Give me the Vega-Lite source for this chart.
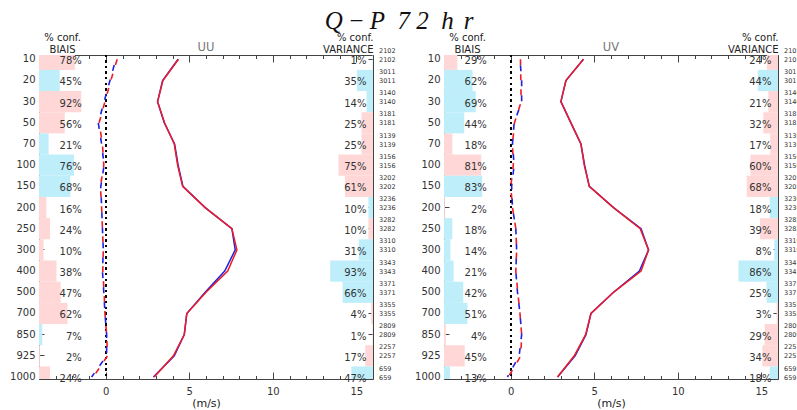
{
  "$schema": "https://vega.github.io/schema/vega-lite/v6.json",
  "padding": {"left": 9, "top": 8, "right": 0, "bottom": 0},
  "background": "white",
  "title": {
    "text": "Q\u2009−\u2009P\u20027 2\u2002h\u2009\u2009r",
    "font": "Liberation Serif",
    "fontStyle": "italic",
    "fontWeight": "normal",
    "fontSize": 25,
    "color": "#111",
    "anchor": "middle",
    "baseline": "alphabetic",
    "dx": -6,
    "offset": -22
  },
  "config": {
    "view": {"stroke": "#444", "strokeWidth": 1},
    "axis": {
      "labelFont": "DejaVu Sans",
      "labelFontSize": 10,
      "labelColor": "#333",
      "titleFont": "DejaVu Sans",
      "titleFontWeight": "normal",
      "titleFontSize": 10,
      "titleColor": "#222",
      "grid": false,
      "domain": false,
      "tickColor": "#444",
      "tickWidth": 1
    },
    "text": {"font": "DejaVu Sans", "fontSize": 10, "color": "#333"}
  },
  "datasets": {
    "uu": [
      {"p": "10", "bc": 0.78, "bs": "pos", "vc": 0.01, "vs": "neg", "n": 2102, "mb": 0.6, "mr": 0.68, "sb": 4.33, "sr": 4.35},
      {"p": "20", "bc": 0.45, "bs": "neg", "vc": 0.35, "vs": "neg", "n": 3011, "mb": 0.25, "mr": 0.3, "sb": 3.4, "sr": 3.42},
      {"p": "30", "bc": 0.92, "bs": "pos", "vc": 0.14, "vs": "neg", "n": 3140, "mb": -0.1, "mr": -0.05, "sb": 3.1, "sr": 3.1},
      {"p": "50", "bc": 0.56, "bs": "pos", "vc": 0.25, "vs": "pos", "n": 3181, "mb": -0.45, "mr": -0.4, "sb": 3.5, "sr": 3.52},
      {"p": "70", "bc": 0.21, "bs": "neg", "vc": 0.25, "vs": "pos", "n": 3139, "mb": -0.25, "mr": -0.2, "sb": 4.12, "sr": 4.1},
      {"p": "100", "bc": 0.76, "bs": "neg", "vc": 0.75, "vs": "pos", "n": 3156, "mb": -0.1, "mr": -0.12, "sb": 4.33, "sr": 4.3},
      {"p": "150", "bc": 0.68, "bs": "neg", "vc": 0.61, "vs": "pos", "n": 3202, "mb": -0.3, "mr": -0.32, "sb": 4.62, "sr": 4.6},
      {"p": "200", "bc": 0.16, "bs": "pos", "vc": 0.10, "vs": "neg", "n": 3236, "mb": -0.25, "mr": -0.25, "sb": 5.95, "sr": 5.95},
      {"p": "250", "bc": 0.24, "bs": "pos", "vc": 0.10, "vs": "pos", "n": 3282, "mb": -0.2, "mr": -0.2, "sb": 7.55, "sr": 7.55},
      {"p": "300", "bc": 0.10, "bs": "pos", "vc": 0.31, "vs": "neg", "n": 3310, "mb": -0.15, "mr": -0.15, "sb": 7.75, "sr": 7.85},
      {"p": "400", "bc": 0.38, "bs": "pos", "vc": 0.93, "vs": "neg", "n": 3343, "mb": -0.2, "mr": -0.18, "sb": 7.12, "sr": 7.3},
      {"p": "500", "bc": 0.47, "bs": "pos", "vc": 0.66, "vs": "neg", "n": 3371, "mb": -0.12, "mr": -0.1, "sb": 5.95, "sr": 6.0},
      {"p": "700", "bc": 0.62, "bs": "pos", "vc": 0.04, "vs": "pos", "n": 3355, "mb": -0.05, "mr": -0.05, "sb": 4.85, "sr": 4.85},
      {"p": "850", "bc": 0.07, "bs": "neg", "vc": 0.01, "vs": "pos", "n": 2809, "mb": 0.05, "mr": 0.05, "sb": 4.7, "sr": 4.7},
      {"p": "925", "bc": 0.02, "bs": "pos", "vc": 0.17, "vs": "pos", "n": 2257, "mb": 0.05, "mr": 0.1, "sb": 4.1, "sr": 4.05},
      {"p": "1000", "bc": 0.24, "bs": "pos", "vc": 0.47, "vs": "neg", "n": 659, "mb": -0.85, "mr": -0.75, "sb": 2.85, "sr": 2.9}
    ],
    "uv": [
      {"p": "10", "bc": 0.29, "bs": "pos", "vc": 0.24, "vs": "pos", "n": 2102, "mb": 0.55, "mr": 0.58, "sb": 4.35, "sr": 4.35},
      {"p": "20", "bc": 0.62, "bs": "neg", "vc": 0.44, "vs": "neg", "n": 3011, "mb": 0.65, "mr": 0.6, "sb": 3.3, "sr": 3.3},
      {"p": "30", "bc": 0.69, "bs": "neg", "vc": 0.21, "vs": "pos", "n": 3140, "mb": 0.65, "mr": 0.62, "sb": 3.0, "sr": 3.0},
      {"p": "50", "bc": 0.44, "bs": "neg", "vc": 0.32, "vs": "pos", "n": 3181, "mb": 0.2, "mr": 0.22, "sb": 3.6, "sr": 3.6},
      {"p": "70", "bc": 0.18, "bs": "pos", "vc": 0.17, "vs": "pos", "n": 3139, "mb": 0.1, "mr": 0.1, "sb": 4.2, "sr": 4.2},
      {"p": "100", "bc": 0.81, "bs": "pos", "vc": 0.60, "vs": "pos", "n": 3156, "mb": 0.2, "mr": 0.15, "sb": 4.42, "sr": 4.4},
      {"p": "150", "bc": 0.83, "bs": "neg", "vc": 0.68, "vs": "pos", "n": 3202, "mb": 0.05, "mr": 0.0, "sb": 4.7, "sr": 4.7},
      {"p": "200", "bc": 0.02, "bs": "pos", "vc": 0.18, "vs": "neg", "n": 3236, "mb": 0.1, "mr": 0.1, "sb": 6.15, "sr": 6.15},
      {"p": "250", "bc": 0.18, "bs": "neg", "vc": 0.39, "vs": "pos", "n": 3282, "mb": 0.3, "mr": 0.3, "sb": 7.8, "sr": 7.75},
      {"p": "300", "bc": 0.14, "bs": "neg", "vc": 0.08, "vs": "neg", "n": 3310, "mb": 0.35, "mr": 0.35, "sb": 8.25, "sr": 8.25},
      {"p": "400", "bc": 0.21, "bs": "neg", "vc": 0.86, "vs": "neg", "n": 3343, "mb": 0.3, "mr": 0.3, "sb": 7.7, "sr": 7.8},
      {"p": "500", "bc": 0.42, "bs": "neg", "vc": 0.25, "vs": "neg", "n": 3371, "mb": 0.4, "mr": 0.42, "sb": 6.15, "sr": 6.15},
      {"p": "700", "bc": 0.51, "bs": "neg", "vc": 0.03, "vs": "pos", "n": 3355, "mb": 0.55, "mr": 0.55, "sb": 4.8, "sr": 4.8},
      {"p": "850", "bc": 0.04, "bs": "pos", "vc": 0.29, "vs": "pos", "n": 2809, "mb": 0.65, "mr": 0.65, "sb": 4.5, "sr": 4.48},
      {"p": "925", "bc": 0.45, "bs": "pos", "vc": 0.34, "vs": "pos", "n": 2257, "mb": 0.5, "mr": 0.6, "sb": 3.85, "sr": 3.8},
      {"p": "1000", "bc": 0.13, "bs": "neg", "vc": 0.18, "vs": "neg", "n": 659, "mb": -0.2, "mr": -0.15, "sb": 2.8, "sr": 2.8}
    ]
  },
  "bounds": "flush",
  "spacing": 71,
  "hconcat": [
    {
      "width": 334,
      "height": 324,
      "data": {"name": "uu"},
      "title": {"text": "UU", "font": "DejaVu Sans", "fontSize": 11.5, "fontWeight": "normal", "color": "#777", "anchor": "middle", "baseline": "alphabetic", "offset": -30},
      "layer": [
        {
          "mark": {"type": "bar", "clip": true},
          "encoding": {
            "y": {"field": "p", "type": "ordinal",
              "scale": {"domain": ["10","20","30","50","70","100","150","200","250","300","400","500","700","850","925","1000"], "range": [-6.3, 332.6], "paddingInner": 0, "paddingOuter": 0},
              "axis": {"orient": "left", "tickSize": -5, "labelPadding": 9, "title": ["% conf.", "BIAIS"], "titleAngle": 0, "titleX": 23, "titleY": -23, "titleAlign": "center", "titleBaseline": "top", "titleLineHeight": 12.5}},
            "x": {"field": "bc", "type": "quantitative", "scale": {"domain": [0, 7.26], "nice": false, "zero": true}, "axis": null},
            "color": {"field": "bs", "type": "nominal", "scale": {"domain": ["pos", "neg"], "range": ["#ffd7d7", "#bfeefb"]}, "legend": null}
          }
        },
        {
          "mark": {"type": "bar", "clip": true},
          "encoding": {
            "y": {"field": "p", "type": "ordinal",
              "axis": {"orient": "right", "tickSize": -5, "labels": false, "title": ["% conf.", "VARIANCE"], "titleAngle": 0, "titleX": 0, "titleY": -23, "titleAlign": "right", "titleBaseline": "top", "titleLineHeight": 12.5}},
            "x": {"field": "vc", "type": "quantitative", "scale": {"domain": [0, 7.26], "nice": false, "zero": true, "reverse": true}, "axis": null},
            "color": {"field": "vs", "type": "nominal", "scale": {"domain": ["pos", "neg"], "range": ["#ffd7d7", "#bfeefb"]}, "legend": null}
          }
        },
        {
          "mark": {"type": "rule", "color": "#000", "strokeWidth": 1.6, "strokeDash": [1.6, 4]},
          "encoding": {
            "x": {"datum": 0, "type": "quantitative", "scale": {"domain": [-4, 16], "nice": false, "zero": false},
              "axis": {"orient": "bottom", "values": [0, 5, 10, 15], "tickSize": -7, "labelPadding": 14, "title": "(m/s)", "titleFontSize": 11, "titlePadding": 1}}
          }
        },
        {
          "mark": {"type": "line", "color": "#2020e0", "strokeWidth": 1.5},
          "encoding": {
            "y": {"field": "p", "type": "ordinal", "axis": null},
            "x": {"field": "sb", "type": "quantitative", "scale": {"domain": [-4, 16], "nice": false, "zero": false},
              "axis": {"orient": "bottom", "values": [-4,-3,-2,-1,0,1,2,3,4,5,6,7,8,9,10,11,12,13,14,15,16], "tickSize": -3.5, "labels": false, "title": null}},
            "order": {"value": null}
          }
        },
        {
          "mark": {"type": "line", "color": "#ee1c25", "strokeWidth": 1.5},
          "encoding": {
            "y": {"field": "p", "type": "ordinal", "axis": null},
            "x": {"field": "sr", "type": "quantitative", "scale": {"domain": [-4, 16], "nice": false, "zero": false},
              "axis": {"orient": "top", "values": [0, 5, 10, 15], "tickSize": -7, "labels": false, "title": null}},
            "order": {"value": null}
          }
        },
        {
          "mark": {"type": "line", "color": "#2020e0", "strokeWidth": 1.6, "strokeDash": [6, 9], "strokeDashOffset": 9},
          "encoding": {
            "y": {"field": "p", "type": "ordinal", "axis": null},
            "x": {"field": "mb", "type": "quantitative", "scale": {"domain": [-4, 16], "nice": false, "zero": false},
              "axis": {"orient": "top", "values": [-4,-3,-2,-1,0,1,2,3,4,5,6,7,8,9,10,11,12,13,14,15,16], "tickSize": -3.5, "labels": false, "title": null}},
            "order": {"value": null}
          }
        },
        {
          "mark": {"type": "line", "color": "#ee1c25", "strokeWidth": 1.6, "strokeDash": [6, 9]},
          "encoding": {
            "y": {"field": "p", "type": "ordinal", "axis": null},
            "x": {"field": "mr", "type": "quantitative", "scale": {"domain": [-4, 16], "nice": false, "zero": false}, "axis": null},
            "order": {"value": null}
          }
        },
        {
          "mark": {"type": "text", "align": "right", "baseline": "middle", "dy": 2},
          "encoding": {
            "y": {"field": "p", "type": "ordinal", "axis": null},
            "x": {"datum": -1.44, "type": "quantitative", "scale": {"domain": [-4, 16], "nice": false, "zero": false}, "axis": null},
            "text": {"field": "bc", "type": "quantitative", "format": ".0%"}
          }
        },
        {
          "mark": {"type": "text", "align": "right", "baseline": "middle", "dy": 2},
          "encoding": {
            "y": {"field": "p", "type": "ordinal", "axis": null},
            "x": {"datum": 15.61, "type": "quantitative", "scale": {"domain": [-4, 16], "nice": false, "zero": false}, "axis": null},
            "text": {"field": "vc", "type": "quantitative", "format": ".0%"}
          }
        },
        {
          "mark": {"type": "text", "align": "left", "baseline": "middle", "dx": 6, "dy": -8.5, "fontSize": 6.5},
          "encoding": {
            "y": {"field": "p", "type": "ordinal", "axis": null},
            "x": {"datum": 16, "type": "quantitative", "scale": {"domain": [-4, 16], "nice": false, "zero": false}, "axis": null},
            "text": {"field": "n", "type": "nominal"}
          }
        },
        {
          "mark": {"type": "text", "align": "left", "baseline": "middle", "dx": 6, "dy": 0.5, "fontSize": 6.5},
          "encoding": {
            "y": {"field": "p", "type": "ordinal", "axis": null},
            "x": {"datum": 16, "type": "quantitative", "scale": {"domain": [-4, 16], "nice": false, "zero": false}, "axis": null},
            "text": {"field": "n", "type": "nominal"}
          }
        }
      ],
      "resolve": {"scale": {"x": "independent", "color": "independent"}, "axis": {"x": "independent", "y": "independent"}}
    },
    {
      "width": 334,
      "height": 324,
      "data": {"name": "uv"},
      "title": {"text": "UV", "font": "DejaVu Sans", "fontSize": 11.5, "fontWeight": "normal", "color": "#777", "anchor": "middle", "baseline": "alphabetic", "offset": -30},
      "layer": [
        {
          "mark": {"type": "bar", "clip": true},
          "encoding": {
            "y": {"field": "p", "type": "ordinal",
              "scale": {"domain": ["10","20","30","50","70","100","150","200","250","300","400","500","700","850","925","1000"], "range": [-6.3, 332.6], "paddingInner": 0, "paddingOuter": 0},
              "axis": {"orient": "left", "tickSize": -5, "labelPadding": 9, "title": ["% conf.", "BIAIS"], "titleAngle": 0, "titleX": 23, "titleY": -23, "titleAlign": "center", "titleBaseline": "top", "titleLineHeight": 12.5}},
            "x": {"field": "bc", "type": "quantitative", "scale": {"domain": [0, 7.26], "nice": false, "zero": true}, "axis": null},
            "color": {"field": "bs", "type": "nominal", "scale": {"domain": ["pos", "neg"], "range": ["#ffd7d7", "#bfeefb"]}, "legend": null}
          }
        },
        {
          "mark": {"type": "bar", "clip": true},
          "encoding": {
            "y": {"field": "p", "type": "ordinal",
              "axis": {"orient": "right", "tickSize": -5, "labels": false, "title": ["% conf.", "VARIANCE"], "titleAngle": 0, "titleX": 0, "titleY": -23, "titleAlign": "right", "titleBaseline": "top", "titleLineHeight": 12.5}},
            "x": {"field": "vc", "type": "quantitative", "scale": {"domain": [0, 7.26], "nice": false, "zero": true, "reverse": true}, "axis": null},
            "color": {"field": "vs", "type": "nominal", "scale": {"domain": ["pos", "neg"], "range": ["#ffd7d7", "#bfeefb"]}, "legend": null}
          }
        },
        {
          "mark": {"type": "rule", "color": "#000", "strokeWidth": 1.6, "strokeDash": [1.6, 4]},
          "encoding": {
            "x": {"datum": 0, "type": "quantitative", "scale": {"domain": [-4, 16], "nice": false, "zero": false},
              "axis": {"orient": "bottom", "values": [0, 5, 10, 15], "tickSize": -7, "labelPadding": 14, "title": "(m/s)", "titleFontSize": 11, "titlePadding": 1}}
          }
        },
        {
          "mark": {"type": "line", "color": "#2020e0", "strokeWidth": 1.5},
          "encoding": {
            "y": {"field": "p", "type": "ordinal", "axis": null},
            "x": {"field": "sb", "type": "quantitative", "scale": {"domain": [-4, 16], "nice": false, "zero": false},
              "axis": {"orient": "bottom", "values": [-4,-3,-2,-1,0,1,2,3,4,5,6,7,8,9,10,11,12,13,14,15,16], "tickSize": -3.5, "labels": false, "title": null}},
            "order": {"value": null}
          }
        },
        {
          "mark": {"type": "line", "color": "#ee1c25", "strokeWidth": 1.5},
          "encoding": {
            "y": {"field": "p", "type": "ordinal", "axis": null},
            "x": {"field": "sr", "type": "quantitative", "scale": {"domain": [-4, 16], "nice": false, "zero": false},
              "axis": {"orient": "top", "values": [0, 5, 10, 15], "tickSize": -7, "labels": false, "title": null}},
            "order": {"value": null}
          }
        },
        {
          "mark": {"type": "line", "color": "#2020e0", "strokeWidth": 1.6, "strokeDash": [6, 9], "strokeDashOffset": 9},
          "encoding": {
            "y": {"field": "p", "type": "ordinal", "axis": null},
            "x": {"field": "mb", "type": "quantitative", "scale": {"domain": [-4, 16], "nice": false, "zero": false},
              "axis": {"orient": "top", "values": [-4,-3,-2,-1,0,1,2,3,4,5,6,7,8,9,10,11,12,13,14,15,16], "tickSize": -3.5, "labels": false, "title": null}},
            "order": {"value": null}
          }
        },
        {
          "mark": {"type": "line", "color": "#ee1c25", "strokeWidth": 1.6, "strokeDash": [6, 9]},
          "encoding": {
            "y": {"field": "p", "type": "ordinal", "axis": null},
            "x": {"field": "mr", "type": "quantitative", "scale": {"domain": [-4, 16], "nice": false, "zero": false}, "axis": null},
            "order": {"value": null}
          }
        },
        {
          "mark": {"type": "text", "align": "right", "baseline": "middle", "dy": 2},
          "encoding": {
            "y": {"field": "p", "type": "ordinal", "axis": null},
            "x": {"datum": -1.44, "type": "quantitative", "scale": {"domain": [-4, 16], "nice": false, "zero": false}, "axis": null},
            "text": {"field": "bc", "type": "quantitative", "format": ".0%"}
          }
        },
        {
          "mark": {"type": "text", "align": "right", "baseline": "middle", "dy": 2},
          "encoding": {
            "y": {"field": "p", "type": "ordinal", "axis": null},
            "x": {"datum": 15.61, "type": "quantitative", "scale": {"domain": [-4, 16], "nice": false, "zero": false}, "axis": null},
            "text": {"field": "vc", "type": "quantitative", "format": ".0%"}
          }
        },
        {
          "mark": {"type": "text", "align": "left", "baseline": "middle", "dx": 6, "dy": -8.5, "fontSize": 6.5},
          "encoding": {
            "y": {"field": "p", "type": "ordinal", "axis": null},
            "x": {"datum": 16, "type": "quantitative", "scale": {"domain": [-4, 16], "nice": false, "zero": false}, "axis": null},
            "text": {"field": "n", "type": "nominal"}
          }
        },
        {
          "mark": {"type": "text", "align": "left", "baseline": "middle", "dx": 6, "dy": 0.5, "fontSize": 6.5},
          "encoding": {
            "y": {"field": "p", "type": "ordinal", "axis": null},
            "x": {"datum": 16, "type": "quantitative", "scale": {"domain": [-4, 16], "nice": false, "zero": false}, "axis": null},
            "text": {"field": "n", "type": "nominal"}
          }
        }
      ],
      "resolve": {"scale": {"x": "independent", "color": "independent"}, "axis": {"x": "independent", "y": "independent"}}
    }
  ]
}
